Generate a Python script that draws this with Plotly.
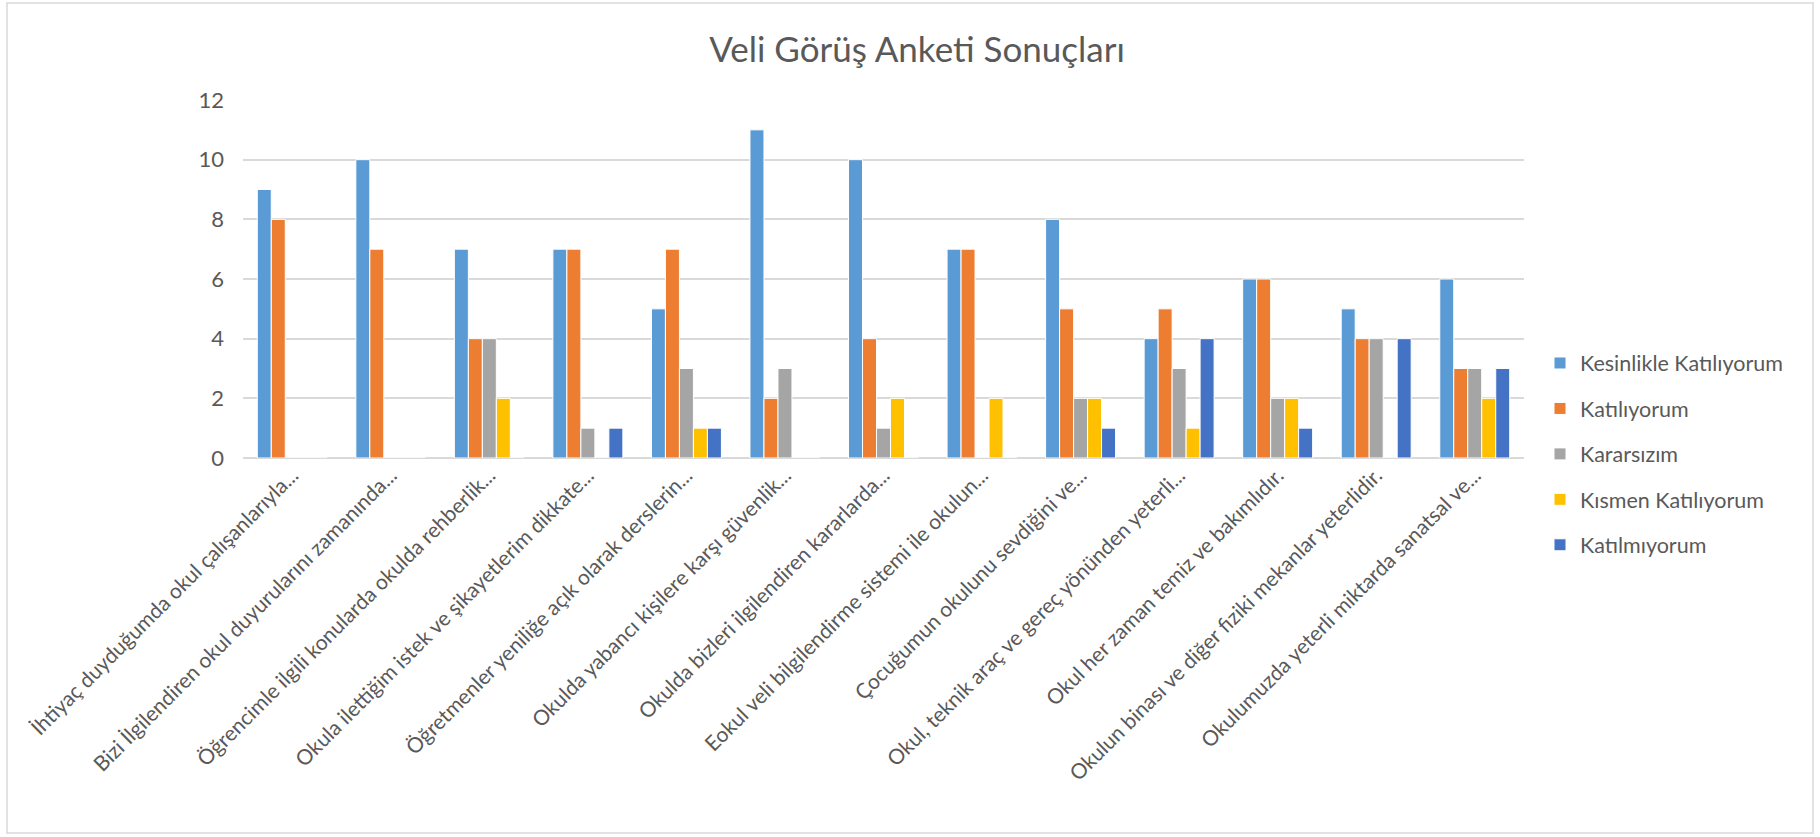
import plotly.graph_objects as go

categories = [
    "İhtiyaç duyduğumda okul çalışanlarıyla...",
    "Bizi İlgilendiren okul duyurularını zamanında...",
    "Öğrencimle ilgili konularda okulda rehberlik...",
    "Okula ilettiğim istek ve şikayetlerim dikkate...",
    "Öğretmenler yeniliğe açık olarak derslerin...",
    "Okulda yabancı kişilere karşı güvenlik...",
    "Okulda bizleri ilgilendiren kararlarda...",
    "Eokul veli bilgilendirme sistemi ile okulun...",
    "Çocuğumun okulunu sevdiğini ve...",
    "Okul, teknik araç ve gereç yönünden yeterli...",
    "Okul her zaman temiz ve bakımlıdır.",
    "Okulun binası ve diğer fiziki mekanlar yeterlidir.",
    "Okulumuzda yeterli miktarda sanatsal ve...",
]

kesinlikle_katiliyorum = [9, 10, 7, 7, 5, 11, 10, 7, 8, 4, 6, 5, 6]
katiliyorum = [8, 7, 4, 7, 7, 2, 4, 7, 5, 5, 6, 4, 3]
kararsizim = [0, 0, 4, 1, 3, 3, 1, 0, 2, 3, 2, 4, 3]
kismen_katiliyorum = [0, 0, 2, 0, 1, 0, 2, 2, 2, 1, 2, 0, 2]
katilmiyorum = [0, 0, 0, 1, 1, 0, 0, 0, 1, 4, 1, 4, 3]

series_names = ["Kesinlikle Katılıyorum", "Katılıyorum", "Kararsızım",
                "Kısmen Katılıyorum", "Katılmıyorum"]
series_values = [kesinlikle_katiliyorum, katiliyorum, kararsizim,
                 kismen_katiliyorum, katilmiyorum]
colors = ["#5B9BD5", "#ED7D31", "#A5A5A5", "#FFC000", "#4472C4"]

FONT = "Lato"
TXT = "#595959"

fig = go.Figure()
for name, vals, col in zip(series_names, series_values, colors):
    fig.add_trace(go.Bar(
        x=categories, y=vals, name=name, legendgroup=name,
        marker=dict(color=col, line=dict(color="white", width=1)),
    ))

W, H = 1820, 837
L, R, T, B = 243, 1820 - 1524, 100, 837 - 458
pw, ph = W - L - R, H - T - B

fig.update_layout(
    width=W, height=H,
    margin=dict(l=L, r=R, t=T, b=B, autoexpand=False),
    paper_bgcolor="white", plot_bgcolor="white",
    barmode="group", bargap=0.29, bargroupgap=0,
    title=dict(text="Veli Görüş Anketi Sonuçları", x=917 / W, xanchor="center",
               y=1 - 50 / H, yanchor="middle",
               font=dict(family=FONT, size=35, color=TXT)),
    font=dict(family=FONT, color=TXT),
    legend=dict(x=(1540 - L) / pw, xanchor="left", y=(458 - 454) / ph, yanchor="middle",
                font=dict(family=FONT, size=21.5, color=TXT), itemwidth=30,
                tracegroupgap=14.5, traceorder="grouped", bgcolor="rgba(0,0,0,0)"),
    showlegend=True,
)
fig.update_yaxes(range=[0, 12], dtick=2, showgrid=True, gridcolor="#D9D9D9", gridwidth=1.5,
                 zeroline=True, zerolinecolor="#D9D9D9", zerolinewidth=1.5,
                 showline=False, ticks="", ticklabelstandoff=18,
                 tickfont=dict(family=FONT, size=22, color=TXT), automargin=False)
fig.update_xaxes(tickangle=-45, showgrid=False, showline=False, ticks="",
                 tickfont=dict(family=FONT, size=21, color=TXT), automargin=False)

fig.add_shape(type="rect", xref="paper", yref="paper",
              x0=(7 - L) / pw, x1=(1813 - L) / pw,
              y0=(458 - 833) / ph, y1=(458 - 3) / ph,
              line=dict(color="#D9D9D9", width=1.5), fillcolor="rgba(0,0,0,0)", layer="below")

fig.write_html("out.html", config={"displayModeBar": False},
               post_script="document.body.style.margin='0';")
